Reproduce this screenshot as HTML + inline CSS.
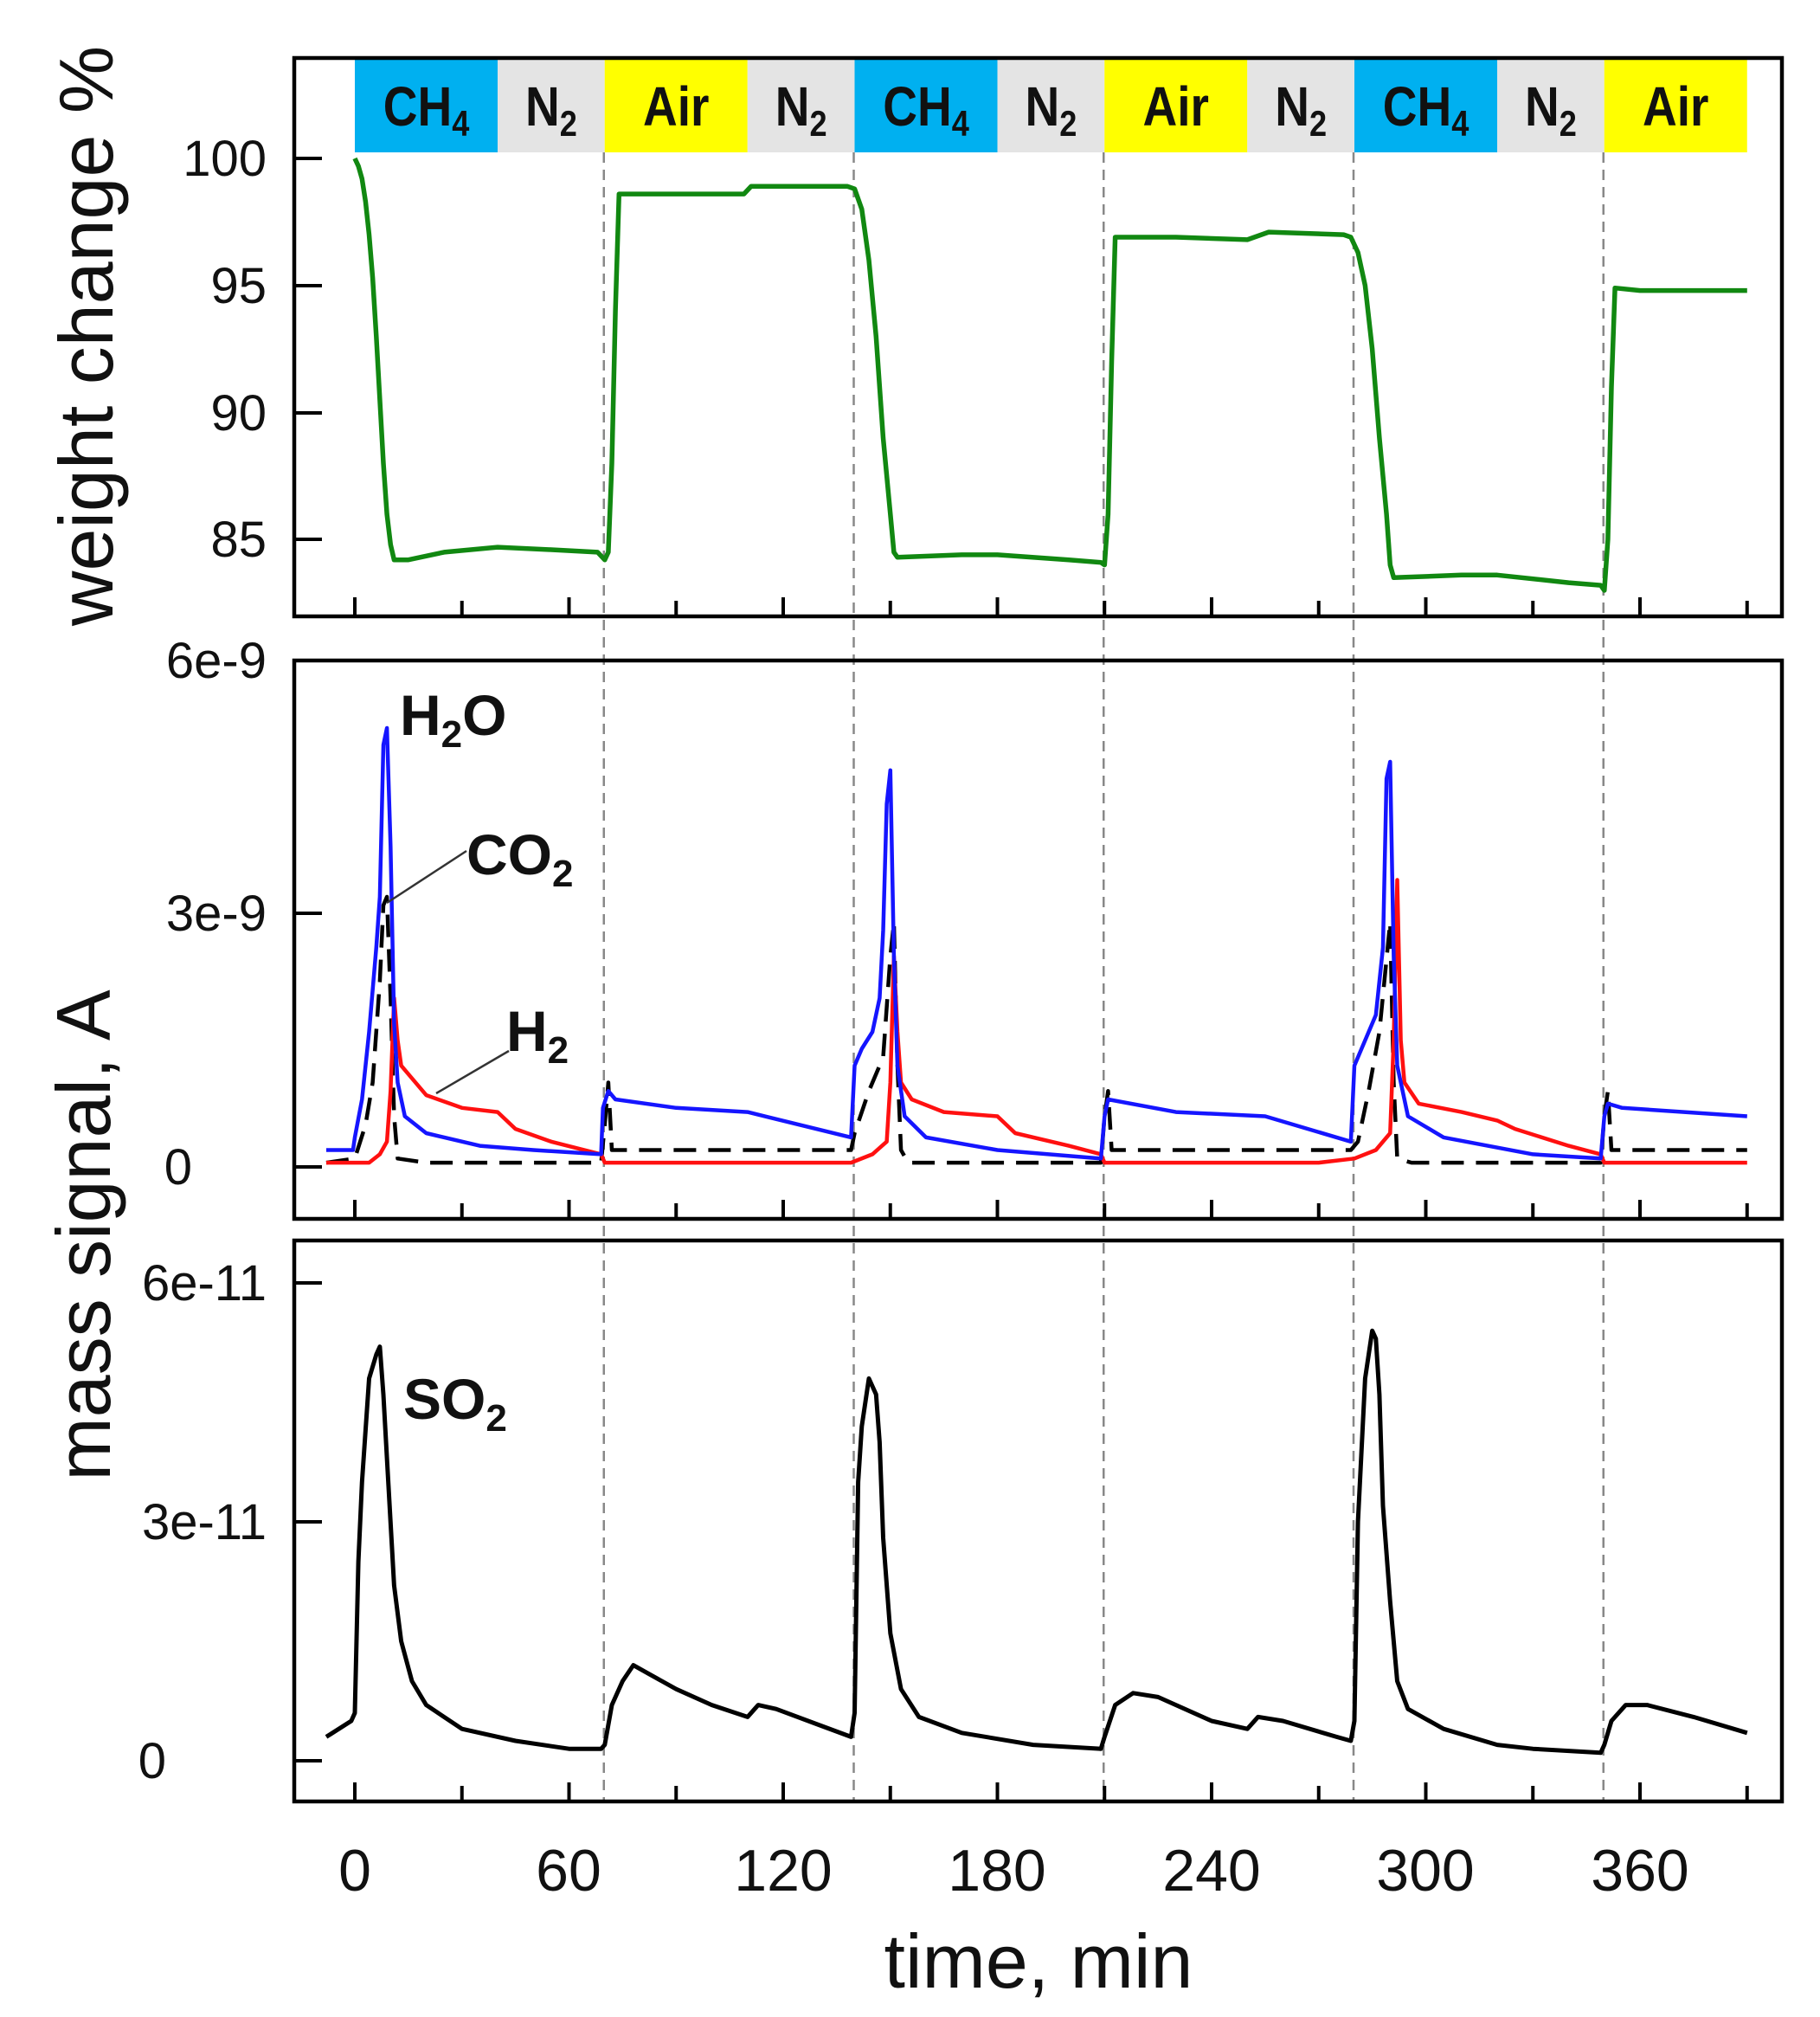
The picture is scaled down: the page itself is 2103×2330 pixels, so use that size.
<!DOCTYPE html>
<html><head><meta charset="utf-8">
<style>
html,body{margin:0;padding:0;background:#fff;}
svg{display:block;}
text{font-family:"Liberation Sans",Arial,sans-serif;}
</style></head>
<body>
<svg id="s" width="2103" height="2330" viewBox="0 0 2103 2330" xmlns="http://www.w3.org/2000/svg">
<g id="bands"></g>
<g id="dash" stroke="#888" stroke-width="2.5" stroke-dasharray="12,8"></g>
<g id="curves" fill="none" stroke-linejoin="round"></g>
<g fill="none" stroke="#000" stroke-width="4.5">
<rect x="340" y="67" width="1719" height="645"/>
<rect x="340" y="763" width="1719" height="645"/>
<rect x="340" y="1433" width="1719" height="648"/>
</g>
<g id="ticks" stroke="#000" stroke-width="4"></g>
<g font-size="58" fill="#111" text-anchor="end">
<text x="308" y="203">100</text>
<text x="308" y="350">95</text>
<text x="308" y="497">90</text>
<text x="308" y="643">85</text>
<text x="308" y="783">6e-9</text>
<text x="308" y="1075">3e-9</text>
<text x="222" y="1368">0</text>
<text x="308" y="1502">6e-11</text>
<text x="308" y="1778">3e-11</text>
<text x="192" y="2054">0</text>
</g>
<g font-size="68" fill="#111" text-anchor="middle">
<text x="410" y="2184">0</text>
<text x="657" y="2184">60</text>
<text x="905" y="2184">120</text>
<text x="1152" y="2184">180</text>
<text x="1400" y="2184">240</text>
<text x="1647" y="2184">300</text>
<text x="1895" y="2184">360</text>
</g>
<text x="1200" y="2296" font-size="88" text-anchor="middle" fill="#111">time, min</text>
<text transform="translate(130,388) rotate(-90)" font-size="88" text-anchor="middle" fill="#111">weight change %</text>
<text transform="translate(127,1427) rotate(-90)" font-size="88" text-anchor="middle" fill="#111">mass signal, A</text>
<g font-size="66" font-weight="bold" fill="#111">
<text x="462" y="849">H<tspan font-size="44" dy="14">2</tspan><tspan dy="-14">O</tspan></text>
<text x="539" y="1010">CO<tspan font-size="44" dy="14">2</tspan></text>
<text x="585" y="1214">H<tspan font-size="44" dy="14">2</tspan></text>
<text x="466" y="1639">SO<tspan font-size="44" dy="14">2</tspan></text>
</g>
<g stroke="#333" stroke-width="2.5">
<line x1="447" y1="1043" x2="539" y2="983"/>
<line x1="504" y1="1263" x2="588" y2="1214"/>
</g>
</svg>
<script>
var NS="http://www.w3.org/2000/svg";
function X(t){return 410+4.125*t;}
function el(p,tag,a,txt){var e=document.createElementNS(NS,tag);for(var k in a)e.setAttribute(k,a[k]);if(txt!==undefined)e.textContent=txt;p.appendChild(e);return e;}
var bands=document.getElementById('bands');
var segs=[["CH4",0,40,"#00b0f0"],["N2",40,70,"#e4e4e4"],["Air",70,110,"#ffff00"],["N2",110,140,"#e4e4e4"],
["CH4",140,180,"#00b0f0"],["N2",180,210,"#e4e4e4"],["Air",210,250,"#ffff00"],["N2",250,280,"#e4e4e4"],
["CH4",280,320,"#00b0f0"],["N2",320,350,"#e4e4e4"],["Air",350,390,"#ffff00"]];
segs.forEach(function(s){
 var x1=X(s[1]),x2=X(s[2]);
 el(bands,'rect',{x:x1,y:69,width:x2-x1,height:107,fill:s[3]});
 var cx=(x1+x2)/2;
 var g=el(bands,'text',{x:0,y:0,'font-size':64,'font-weight':'bold','text-anchor':'middle',fill:'#111',transform:'translate('+cx+',145) scale(0.86,1)'});
 if(s[0]=="Air"){g.textContent="Air";}
 else{var base=s[0].slice(0,-1),sub=s[0].slice(-1);
  el(g,'tspan',{},base);el(g,'tspan',{'font-size':42,dy:12},sub);}
});
var d=document.getElementById('dash');
[70,140,210,280,350].forEach(function(t){var x=X(t)-1;el(d,'line',{x1:x,y1:176,x2:x,y2:2081});});
var tk=document.getElementById('ticks');
[[712],[1408],[2081]].forEach(function(b){
 for(var t=0;t<=390;t+=30){var x=X(t);el(tk,'line',{x1:x,y1:b[0],x2:x,y2:b[0]-(t%60==0?22:18)});}
});
[183,330,477,623,763,1055,1348,1482,1758,2034].forEach(function(y){el(tk,'line',{x1:340,y1:y,x2:372,y2:y});});
function path(pts,fy,attrs){
 var s="";pts.forEach(function(p,i){s+=(i?"L":"M")+X(p[0]).toFixed(1)+","+fy(p[1]).toFixed(1);});
 attrs.d=s;el(document.getElementById('curves'),'path',attrs);
}
var yw=function(w){return 183+(100-w)*29.35;};
path([[0,100],[1,99.7],[2,99.2],[3,98.3],[4,97],[5,95.3],[6,93],[7,90.5],[8,88],[9,86],[10,84.8],[11,84.2],[15,84.2],[25,84.5],[40,84.7],[55,84.6],[68,84.5],[70,84.2],[71,84.5],[72,88],[73,94],[74,98.6],[90,98.6],[109,98.6],[111,98.9],[138,98.9],[140,98.8],[142,98],[144,96],[146,93],[148,89],[150,86],[151,84.5],[152,84.3],[170,84.4],[180,84.4],[200,84.2],[209,84.1],[210,84],[211,86],[212,92],[213,96.9],[230,96.9],[250,96.8],[256,97.1],[277,97],[279,96.9],[281,96.3],[283,95],[285,92.5],[287,89],[289,86],[290,84],[291,83.5],[310,83.6],[320,83.6],[340,83.3],[349,83.2],[350,83],[351,85],[352,91],[353,94.9],[360,94.8],[390,94.8]],yw,{stroke:"#118811","stroke-width":5.5});
var ym=function(v){return 1348-v*97.5;};
path([[-8,0.05],[0,0.1],[3,0.5],[5,1.0],[7,2.2],[8,3.1],[9,3.2],[10,2.0],[11,0.6],[12,0.1],[20,0.05],[69,0.05],[70,0.5],[71,1.0],[72,0.2],[139,0.2],[140,0.4],[144,0.9],[148,1.3],[150,2.5],[151,2.9],[152,1.2],[153,0.2],[155,0.05],[209,0.05],[210,0.6],[211,0.9],[212,0.2],[279,0.2],[281,0.3],[284,0.9],[287,1.6],[290,2.9],[291,1.0],[292,0.1],[296,0.05],[349,0.05],[350,0.6],[351,0.9],[352,0.2],[390,0.2]],ym,{stroke:"#000","stroke-width":4.5,"stroke-dasharray":"26,14"});
path([[-8,0.05],[4,0.05],[7,0.15],[9,0.3],[10,0.9],[11,2.0],[12,1.5],[13,1.2],[15,1.1],[20,0.85],[30,0.7],[40,0.65],[45,0.45],[55,0.3],[69,0.15],[70,0.05],[139,0.05],[145,0.15],[149,0.3],[150,1.0],[151,2.5],[152,1.6],[153,1.0],[156,0.8],[165,0.65],[180,0.6],[185,0.4],[200,0.25],[209,0.15],[210,0.05],[270,0.05],[280,0.1],[286,0.2],[290,0.4],[291,1.5],[292,3.4],[293,1.5],[294,1.0],[298,0.75],[310,0.65],[320,0.55],[325,0.45],[340,0.25],[349,0.15],[350,0.05],[390,0.05]],ym,{stroke:"#ff1010","stroke-width":4.5});
path([[-8,0.2],[-0.5,0.2],[0,0.35],[2,0.8],[4,1.6],[6,2.6],[7,3.2],[8,5.0],[9,5.2],[10,3.8],[11,1.7],[12,1.0],[14,0.6],[20,0.4],[35,0.25],[50,0.2],[69,0.15],[69.5,0.7],[71,0.9],[73,0.8],[90,0.7],[110,0.65],[139,0.35],[140,1.2],[142,1.4],[145,1.6],[147,2.0],[148,2.8],[149,4.3],[150,4.7],[151,2.5],[152,1.2],[154,0.6],[160,0.35],[180,0.2],[209,0.1],[210,0.6],[211,0.8],[230,0.65],[255,0.6],[279,0.3],[280,1.2],[283,1.5],[286,1.8],[288,2.6],[289,4.6],[290,4.8],[291,2.5],[292,1.2],[295,0.6],[305,0.35],[330,0.15],[349,0.1],[350,0.6],[351,0.75],[355,0.7],[390,0.6]],ym,{stroke:"#1515ff","stroke-width":4.5});
var ys=function(v){return 2034-v*92;};
path([[-8,0.3],[-1,0.5],[0,0.6],[1,2.5],[2,3.5],[4,4.8],[6,5.1],[7,5.2],[8,4.6],[9,3.8],[11,2.2],[13,1.5],[16,1.0],[20,0.7],[30,0.4],[45,0.25],[60,0.15],[69,0.15],[70,0.2],[72,0.7],[75,1.0],[78,1.2],[82,1.1],[90,0.9],[100,0.7],[110,0.55],[113,0.7],[118,0.65],[130,0.45],[139,0.3],[140,0.6],[141,3.5],[142,4.2],[144,4.8],[146,4.6],[147,4.0],[148,2.8],[150,1.6],[153,0.9],[158,0.55],[170,0.35],[190,0.2],[209,0.15],[210,0.3],[213,0.7],[218,0.85],[225,0.8],[240,0.5],[250,0.4],[253,0.55],[260,0.5],[275,0.3],[279,0.25],[280,0.5],[281,3.0],[283,4.8],[285,5.4],[286,5.3],[287,4.6],[288,3.2],[290,2.0],[292,1.0],[295,0.65],[305,0.4],[320,0.2],[330,0.15],[349,0.1],[350,0.2],[352,0.5],[356,0.7],[362,0.7],[375,0.55],[390,0.35]],ys,{stroke:"#000","stroke-width":5});
</script>
</body></html>
